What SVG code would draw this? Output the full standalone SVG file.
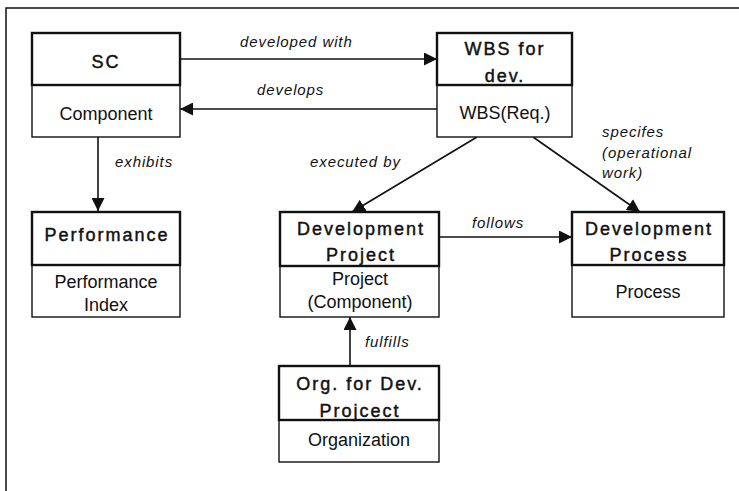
<svg xmlns="http://www.w3.org/2000/svg" width="739" height="491" viewBox="0 0 739 491">
  <style>
    .frame { stroke: #111; stroke-width: 1.5; fill: none; }
    .head { fill: #fff; stroke: #111; stroke-width: 2.4; }
    .body { fill: #fff; stroke: #111; stroke-width: 1.4; }
    .title { font-family: "Liberation Sans", Arial, sans-serif; font-size: 18px; fill: #111; stroke: #111; stroke-width: 0.45; text-anchor: middle; letter-spacing: 2px; }
    .sub { font-family: "Liberation Sans", Arial, sans-serif; font-size: 18px; fill: #111; text-anchor: middle; }
    .lbl { font-family: "Liberation Sans", Arial, sans-serif; font-size: 15px; font-style: italic; fill: #111; letter-spacing: 0.9px; }
    .edge { stroke: #111; stroke-width: 1.6; fill: none; marker-end: url(#arrow); }
  </style>
  <defs>
    <marker id="arrow" viewBox="0 0 12 12" refX="12" refY="6" markerWidth="13" markerHeight="13" markerUnits="userSpaceOnUse" orient="auto">
      <path d="M0,0 L12,6 L0,12 z" fill="#111"/>
    </marker>
  </defs>
  <rect width="739" height="491" fill="#fff"/>
  <!-- outer frame (top and left edges) -->
  <path class="frame" d="M6,491 V8 H739"/>

  <g id="connectors">
    <line class="edge" x1="180" y1="59" x2="437" y2="59"/>
    <line class="edge" x1="437" y1="109" x2="180" y2="109"/>
    <line class="edge" x1="98" y1="137" x2="98" y2="211"/>
    <line class="edge" x1="477" y1="137" x2="352" y2="212"/>
    <line class="edge" x1="533" y1="137" x2="640" y2="212"/>
    <line class="edge" x1="439" y1="237" x2="572" y2="237"/>
    <line class="edge" x1="350" y1="366" x2="350" y2="317"/>
    <text class="lbl" x="240" y="47">developed with</text>
    <text class="lbl" x="257" y="95">develops</text>
    <text class="lbl" x="115" y="167">exhibits</text>
    <text class="lbl" x="310" y="167">executed by</text>
    <text class="lbl" x="602" y="137">specifes</text>
    <text class="lbl" x="602" y="158">(operational</text>
    <text class="lbl" x="602" y="178">work)</text>
    <text class="lbl" x="472" y="228">follows</text>
    <text class="lbl" x="365" y="347">fulfills</text>
  </g>

  <g id="sc">
    <rect class="body" x="32" y="85" width="148" height="52"/>
    <rect class="head" x="32" y="33" width="148" height="52"/>
    <text class="title" x="106" y="68">SC</text>
    <text class="sub" x="106" y="120">Component</text>
  </g>

  <g id="wbs">
    <rect class="body" x="437" y="85" width="135" height="52"/>
    <rect class="head" x="437" y="33" width="135" height="52"/>
    <text class="title" x="505" y="55">WBS for</text>
    <text class="title" x="505" y="82">dev.</text>
    <text class="sub" x="505" y="119">WBS(Req.)</text>
  </g>

  <g id="performance">
    <rect class="body" x="32" y="265" width="148" height="52"/>
    <rect class="head" x="32" y="212" width="148" height="53"/>
    <text class="title" x="107" y="241">Performance</text>
    <text class="sub" x="106" y="288">Performance</text>
    <text class="sub" x="106" y="311">Index</text>
  </g>

  <g id="dev-project">
    <rect class="body" x="280" y="266" width="159" height="51"/>
    <rect class="head" x="280" y="212" width="159" height="54"/>
    <text class="title" x="361" y="235">Development</text>
    <text class="title" x="361" y="261">Project</text>
    <text class="sub" x="360" y="285">Project</text>
    <text class="sub" x="360" y="308">(Component)</text>
  </g>

  <g id="dev-process">
    <rect class="body" x="572" y="265" width="152" height="52"/>
    <rect class="head" x="572" y="212" width="152" height="53"/>
    <text class="title" x="649" y="235">Development</text>
    <text class="title" x="649" y="261">Process</text>
    <text class="sub" x="648" y="298">Process</text>
  </g>

  <g id="org">
    <rect class="body" x="279" y="420" width="160" height="42"/>
    <rect class="head" x="279" y="366" width="160" height="54"/>
    <text class="title" x="360" y="390">Org. for Dev.</text>
    <text class="title" x="360" y="417">Projcect</text>
    <text class="sub" x="359" y="446">Organization</text>
  </g>
</svg>
